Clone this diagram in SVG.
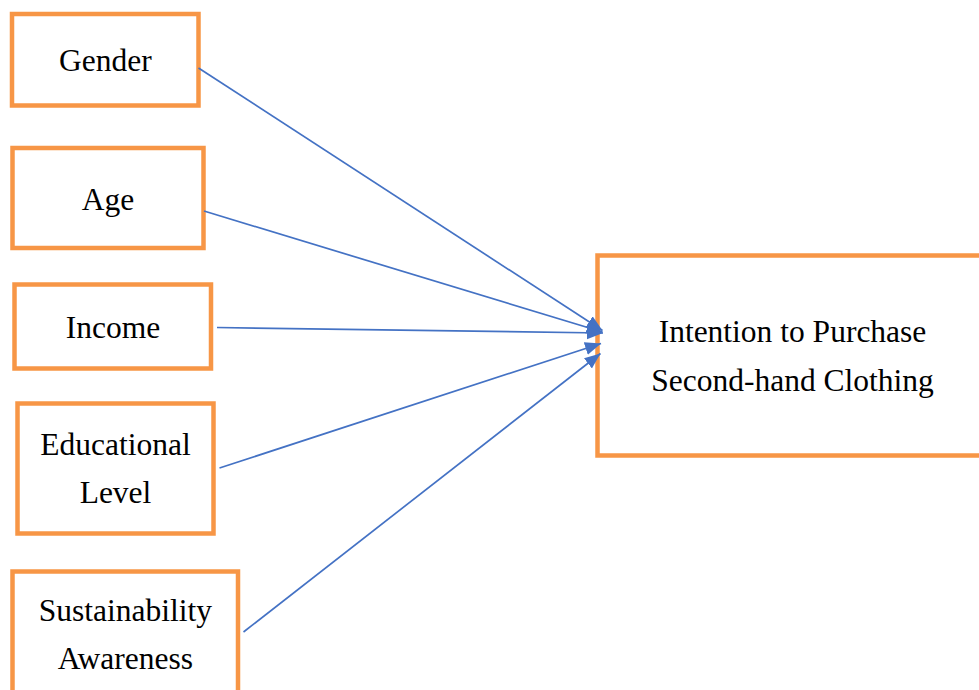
<svg xmlns="http://www.w3.org/2000/svg" width="979" height="690" viewBox="0 0 979 690">
  <style>
    .box { fill: #ffffff; stroke: #F79646; stroke-width: 4.5; }
    .lbl { font-family: "Liberation Serif", "Times New Roman", serif; font-size: 31.5px; fill: #000000; text-anchor: middle; }
    .conn { stroke: #4472C4; stroke-width: 1.7; fill: none; marker-end: url(#arrow); }
  </style>
  <defs>
    <marker id="arrow" markerUnits="userSpaceOnUse" markerWidth="17" markerHeight="14" refX="16" refY="7" orient="auto">
      <path d="M0,0.5 L16,7 L0,13.5 z" fill="#4472C4"/>
    </marker>
  </defs>
  <rect width="979" height="690" fill="#ffffff"/>

  <g id="node-gender">
    <rect class="box" x="12" y="14" width="186.5" height="91.5"/>
    <text class="lbl" x="105.3" y="71">Gender</text>
  </g>
  <g id="node-age">
    <rect class="box" x="12.5" y="148" width="191" height="100"/>
    <text class="lbl" x="108" y="210">Age</text>
  </g>
  <g id="node-income">
    <rect class="box" x="14.5" y="284.5" width="196.5" height="84"/>
    <text class="lbl" x="113" y="338.3">Income</text>
  </g>
  <g id="node-education">
    <rect class="box" x="17.5" y="403.5" width="196" height="130"/>
    <text class="lbl" x="115.5" y="455">Educational</text>
    <text class="lbl" x="115.5" y="503.3">Level</text>
  </g>
  <g id="node-sustainability">
    <rect class="box" x="12.5" y="571.5" width="225.5" height="140"/>
    <text class="lbl" x="125.3" y="621">Sustainability</text>
    <text class="lbl" x="125.3" y="669">Awareness</text>
  </g>
  <g id="node-intention">
    <rect class="box" x="597.5" y="255.5" width="392" height="200"/>
    <text class="lbl" x="792.5" y="341.7">Intention to Purchase</text>
    <text class="lbl" x="792.5" y="390.7">Second-hand Clothing</text>
  </g>

  <g id="connectors">
    <line class="conn" x1="198.5" y1="68" x2="602.5" y2="330.5"/>
    <line class="conn" x1="204" y1="211" x2="602.5" y2="332"/>
    <line class="conn" x1="217" y1="327.5" x2="603" y2="333"/>
    <line class="conn" x1="219.5" y1="468" x2="601" y2="343.5"/>
    <line class="conn" x1="243.5" y1="632" x2="600.5" y2="353.5"/>
  </g>
</svg>
